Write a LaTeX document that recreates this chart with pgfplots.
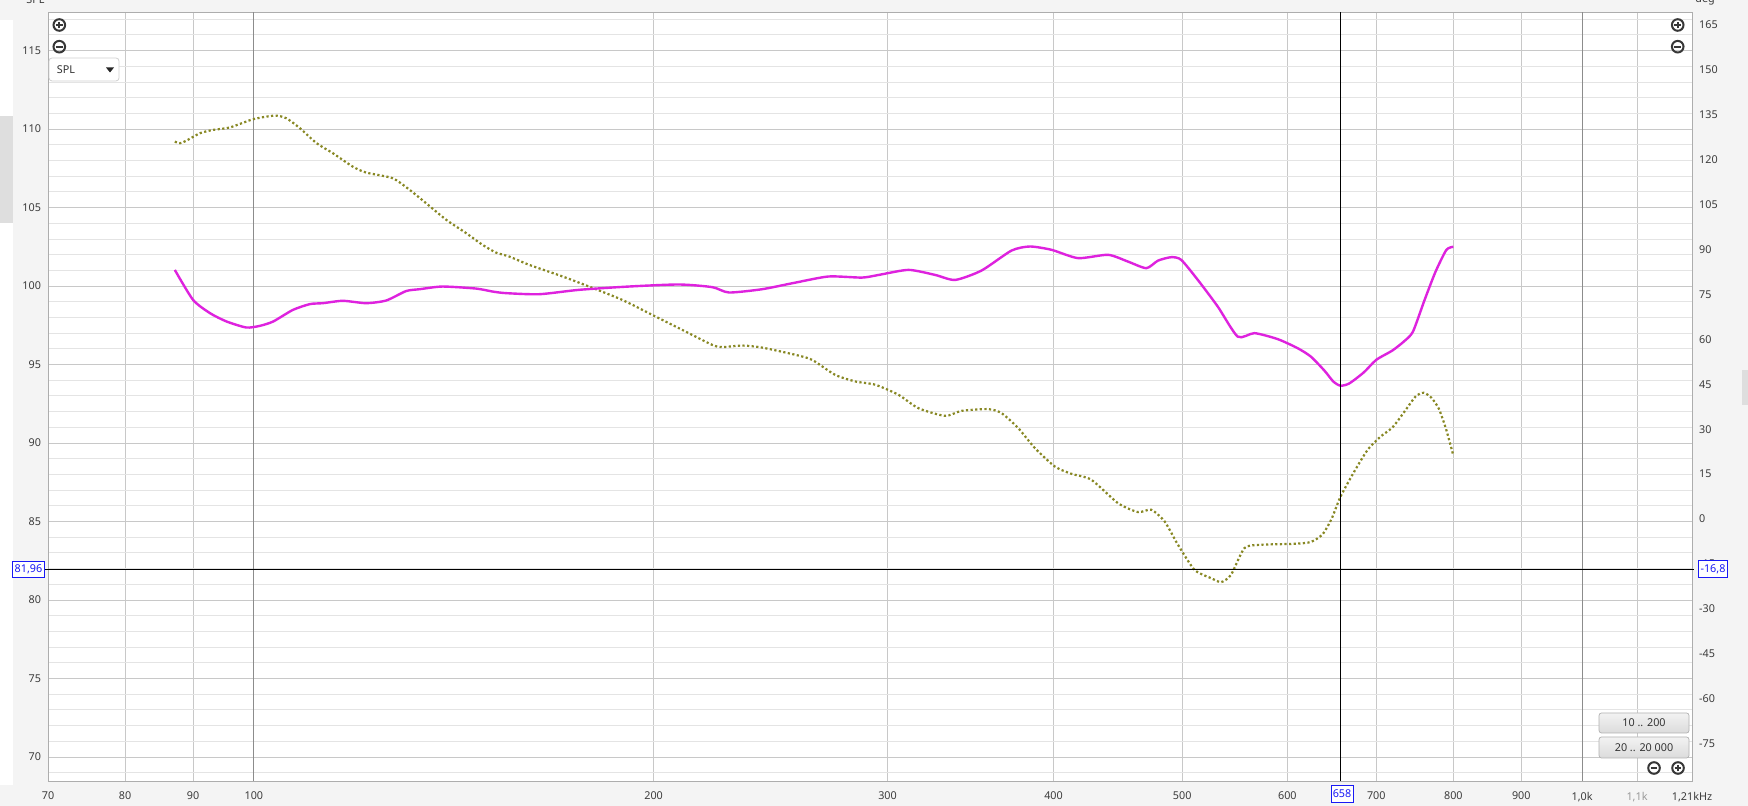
\documentclass[border=0pt]{standalone}
\usepackage{fontspec}
\setmainfont{Noto Sans}
\usepackage{pgfplots}
\pgfplotsset{compat=1.18}
\definecolor{spl}{RGB}{222,34,222}
\definecolor{olv}{RGB}{136,136,36}
\definecolor{bggray}{RGB}{244,244,244}
\definecolor{minorgrid}{RGB}{228,228,228}
\definecolor{majorgrid}{RGB}{200,200,200}
\definecolor{vmajor}{RGB}{140,140,140}
\definecolor{tickc}{RGB}{60,60,60}
\definecolor{curblue}{RGB}{25,25,245}
\definecolor{icon}{RGB}{55,55,55}
\newcommand{\tfont}{\fontsize{5.4}{6.2}\selectfont}

\pgfplotstableread{
f db
87.2 101.03
90.0 99.12
92.7 98.27
95.4 97.74
98.7 97.36
101.0 97.46
103.4 97.74
107.0 98.48
110.2 98.85
112.7 98.91
116.7 99.06
121.5 98.91
125.8 99.08
130.2 99.68
133.3 99.80
138.7 99.97
147.0 99.84
151.3 99.65
154.8 99.55
164.0 99.48
175.8 99.76
191.6 99.97
209.0 100.10
221.4 99.93
227.9 99.59
241.4 99.80
255.7 100.22
270.9 100.61
287.0 100.54
295.5 100.71
311.1 101.03
325.8 100.71
337.3 100.39
353.1 100.99
371.9 102.26
384.0 102.52
398.6 102.31
417.4 101.78
439.7 101.99
455.1 101.56
469.8 101.14
479.4 101.62
490.6 101.84
499.1 101.67
513.7 100.39
531.8 98.69
550.5 96.78
566.7 97.00
590.0 96.62
610.8 96.04
625 95.5
640 94.6
650 93.9
658 93.65
668 93.8
685 94.5
700 95.3
720 95.9
735 96.5
746 97.1
761 99.1
775.6 100.9
790.4 102.3
800 102.5
}\splData

\pgfplotstableread{
f db
87.2 109.20
88.0 109.10
89.0 109.27
91.1 109.74
93.2 109.95
95.9 110.10
99.9 110.63
103.7 110.86
105.8 110.69
108.3 110.06
111.5 109.10
114.7 108.46
118.7 107.61
121.5 107.23
127.2 106.87
131.0 106.13
134.8 105.28
139.6 104.22
144.5 103.37
148.7 102.62
152.2 102.13
155.7 101.88
161.2 101.35
170.8 100.61
178.8 99.97
189.4 99.12
199.5 98.17
211.4 97.10
221.4 96.25
225.2 96.11
233.2 96.21
241.4 96.08
255.7 95.62
263.2 95.30
274.0 94.34
283.8 93.92
293.8 93.71
305.8 93.07
316.5 92.22
331.5 91.73
341.1 92.05
357.3 92.16
365.6 91.90
376.3 90.95
387.3 89.68
401.0 88.50
412.6 88.04
427.1 87.66
447.3 86.17
463.1 85.60
473.9 85.75
485.0 85.00
496.3 83.52
510.8 81.92
525.7 81.39
534.9 81.14
544.2 81.61
557.0 83.31
573.2 83.52
607.3 83.58
625 83.7
638 84.2
648 85.2
658 86.6
675 88.3
690 89.6
705 90.4
720 91.0
735 92.0
750 93.0
760 93.2
770 92.9
780 92.2
790 90.9
800 89.2
}\olvData

\begin{document}
\begin{tikzpicture}
\useasboundingbox (0,0) rectangle (874pt,403pt);
\begin{scope}[x=0.5pt,y=0.5pt]
\fill[bggray] (0,0) rectangle (1748,806);
\fill[white] (0,21) rectangle (13,786);
\fill[black!13] (0,583) rectangle (13,690);
\fill[black!13] (1742,401) rectangle (1748,436);
\end{scope}

\begin{axis}[
  at={(24pt,12.5pt)}, anchor=south west,
  width=822pt, height=384.5pt, scale only axis,
  xmode=log, xmin=70, xmax=1210, ymin=68.47, ymax=117.46,
  clip=false,
  axis background/.style={fill=white},
  axis line style={draw=black!32, line width=0.4pt},
  xtick={70,80,90,100,200,300,400,500,600,700,800,900,1000,1100,1210},
  xticklabels={70,80,90,100,200,300,400,500,600,700,800,900,{1,0k},{\textcolor{black!40}{1,1k}},{1,21kHz}},
  ytick={70,75,...,115},
  minor ytick={69,71,72,73,74,76,77,78,79,81,82,83,84,86,87,88,89,91,92,93,94,96,97,98,99,101,102,103,104,106,107,108,109,111,112,113,114,116,117},
  xmajorgrids, ymajorgrids, yminorgrids,
  major grid style={draw=majorgrid, line width=0.45pt},
  minor grid style={draw=minorgrid, line width=0.45pt},
  major tick length=0pt, minor tick length=0pt,
  tick label style={font=\tfont, text=tickc},
  xticklabel style={yshift=-2pt},
  /pgf/number format/assume math mode=true,
]
\addplot[vmajor, line width=0.5pt, forget plot] coordinates {(100,68.47) (100,117.46)};
\addplot[vmajor, line width=0.5pt, forget plot] coordinates {(1000,68.47) (1000,117.46)};
\addplot[olv, line width=1.1pt, dash pattern=on 1.1pt off 1.2pt, smooth, tension=0.4] table[x=f, y=db] {\olvData};
\addplot[spl, line width=1.2pt, smooth, tension=0.4] table[x=f, y=db] {\splData};
\addplot[black, line width=0.6pt] coordinates {(658,68.47) (658,117.46)};
\addplot[black, line width=0.6pt] coordinates {(69.5,81.96) (1214,81.96)};
\end{axis}

\begin{axis}[
  at={(24pt,12.5pt)}, anchor=south west,
  width=822pt, height=384.5pt, scale only axis,
  xmode=log, xmin=70, xmax=1210, ymin=-87.5, ymax=169.34,
  axis x line=none, axis y line*=right,
  axis line style={draw=none},
  ytick={-75,-60,...,165},
  yticklabels={-75,-60,-45,-30,-15,0,15,30,45,60,75,90,105,120,135,150,165},
  major tick length=0pt,
  tick label style={font=\tfont, text=tickc},
]
\end{axis}

\begin{scope}[x=0.5pt,y=0.5pt]
% header labels (partly cut off at the top)
\node[anchor=base west, font=\tfont, text=tickc, inner sep=0pt] at (26,802) {SPL};
\node[anchor=base west, font=\tfont, text=tickc, inner sep=0pt] at (1695,803) {deg};

% zoom icons
\foreach \cx/\cy/\pl in {59.3/781/1, 59.3/759.3/0, 1677.7/781/1, 1677.7/759.3/0, 1654/38/0, 1678/38/1} {
  \draw[icon, line width=1pt] (\cx,\cy) circle (5.8);
  \draw[icon, line width=1pt] (\cx-3.4,\cy) -- (\cx+3.4,\cy);
  \ifnum\pl=1 \draw[icon, line width=1pt] (\cx,\cy-3.4) -- (\cx,\cy+3.4); \fi
}

% SPL dropdown
\draw[black!18, fill=white, rounded corners=1.5pt, line width=0.4pt] (49,725) rectangle (119,748);
\node[anchor=west, font=\tfont, text=black!80, inner sep=0pt] at (56.5,736.5) {SPL};
\fill[black!85] (106,738.5) -- (114,738.5) -- (110,733.5) -- cycle;

% range buttons
\shade[top color=black!5, bottom color=black!14, rounded corners=1.25pt] (1599,73) rectangle (1689,93);
\draw[black!30, rounded corners=1.25pt, line width=0.35pt] (1599,73) rectangle (1689,93);
\node[font=\tfont, text=black!80] at (1644,83) {10 .. 200};
\shade[top color=black!5, bottom color=black!14, rounded corners=1.25pt] (1599,48) rectangle (1689,69);
\draw[black!30, rounded corners=1.25pt, line width=0.35pt] (1599,48) rectangle (1689,69);
\node[font=\tfont, text=black!80] at (1644,58.5) {20 .. 20 000};

% cursor value boxes
\node[draw=curblue, fill=white, text=curblue, font=\tfont, line width=0.45pt, inner xsep=0.9pt, inner ysep=0.6pt, minimum height=8.25pt] at (28.5,236.5) {81,96};
\node[draw=curblue, fill=white, text=curblue, font=\tfont, line width=0.45pt, inner xsep=0.9pt, inner ysep=0.6pt, minimum height=8.25pt] at (1713,237) {-16,8};
\node[draw=curblue, fill=white, text=curblue, font=\tfont, line width=0.45pt, inner xsep=0.9pt, inner ysep=0.6pt, minimum height=8.5pt] at (1342,12) {658};
\end{scope}
\end{tikzpicture}
\end{document}
